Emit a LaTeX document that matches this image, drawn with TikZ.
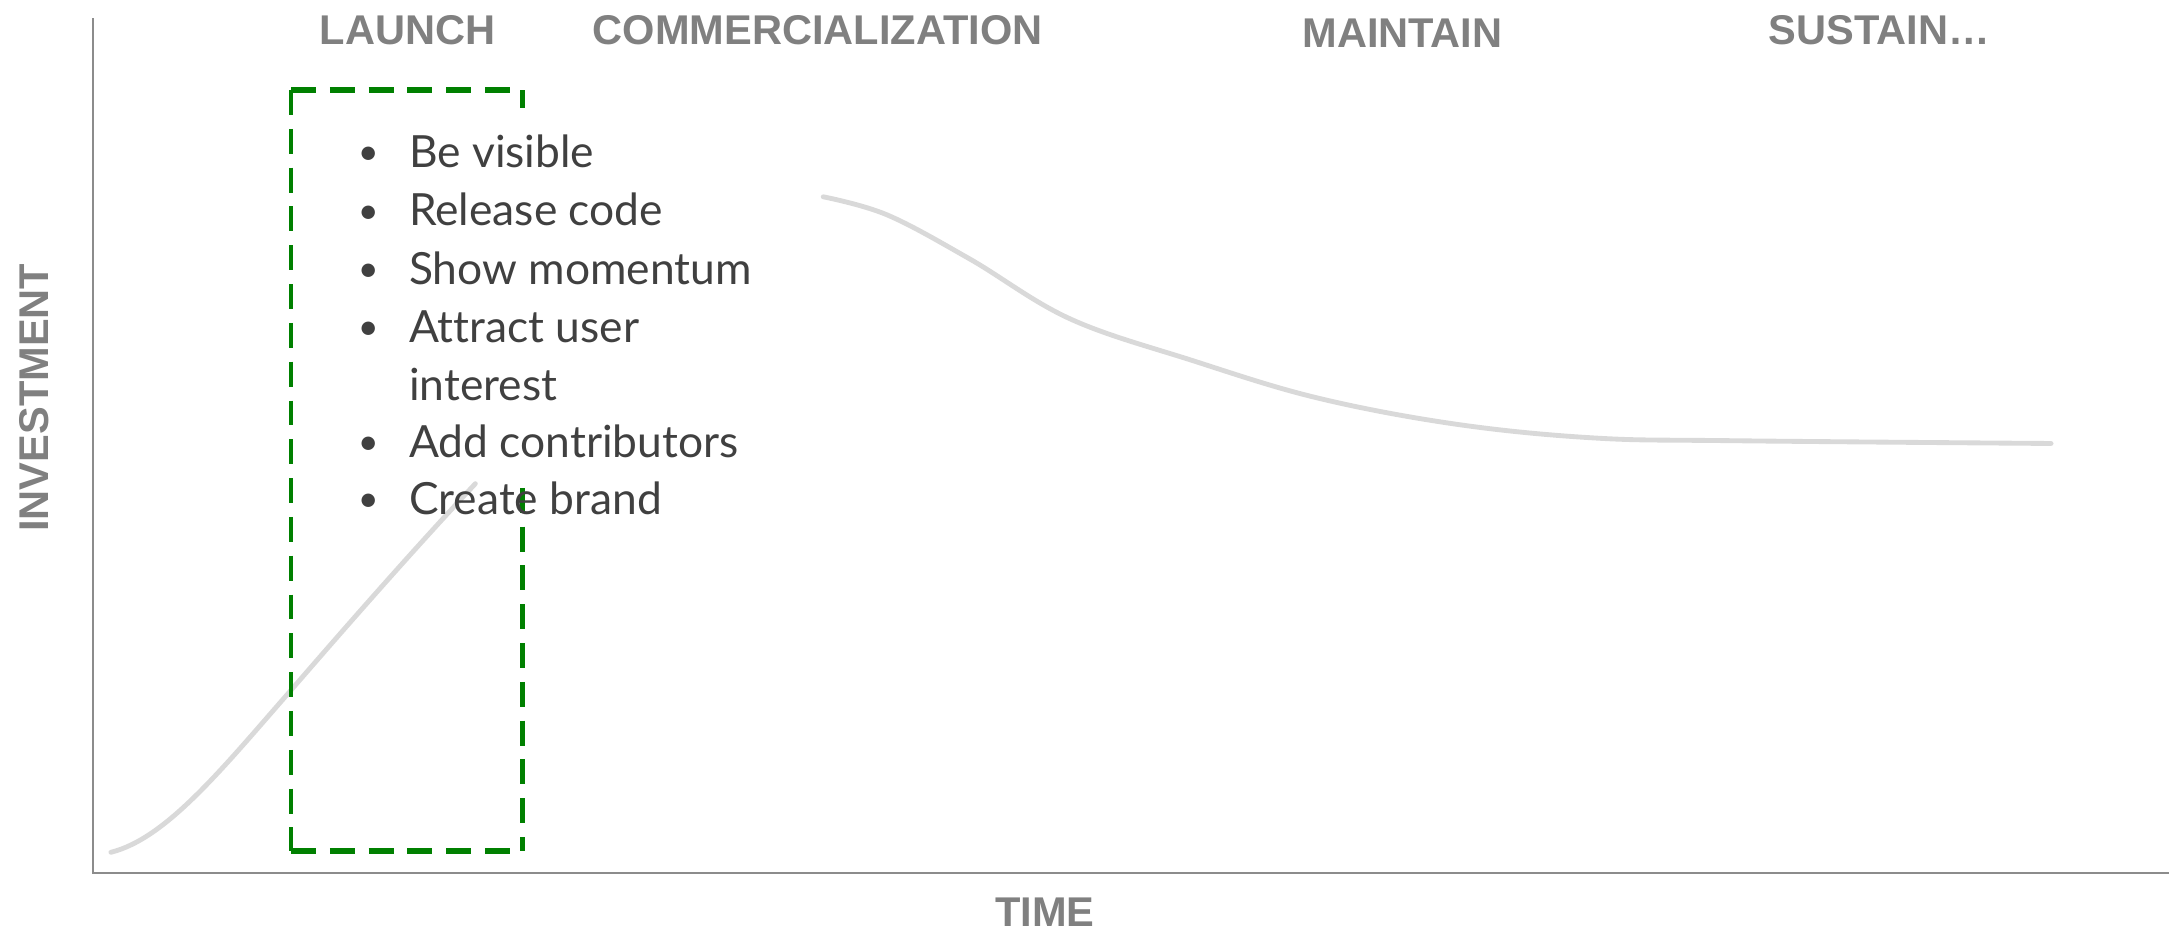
\documentclass[tikz,border=0pt]{standalone}
\usepackage{fontspec}
\setmainfont{Liberation Sans}
\newfontfamily\bodyfont[Ligatures=NoCommon]{Lato}
\definecolor{axisgray}{HTML}{8C8C8C}
\definecolor{labelgray}{HTML}{808080}
\definecolor{curvegray}{HTML}{D9D9D9}
\definecolor{boxgreen}{HTML}{008000}
\definecolor{textdark}{HTML}{404040}
\tikzset{
  phase/.style={inner sep=0pt, text=labelgray, font=\fontsize{30}{36}\selectfont\bfseries},
  axisline/.style={draw=axisgray, line width=1.5pt},
  curveline/.style={draw=curvegray, line width=3.5pt, line cap=round},
  greenh/.style={draw=boxgreen, line width=4pt, dash pattern=on 18pt off 10pt},
  greenv/.style={draw=boxgreen, line width=3pt, dash pattern=on 18pt off 10pt},
  bul/.style={inner sep=0pt, anchor=base west, text=textdark, font=\bodyfont\fontsize{32}{40}\selectfont},
  dot/.style={inner sep=0pt, anchor=base west, text=textdark, font=\bodyfont\fontsize{26}{30}\selectfont},
}
\begin{document}
\begin{tikzpicture}[x=1pt,y=-1pt]
\useasboundingbox (0,0) rectangle (1568,673);
% axes
\coordinate (ytop) at (67,13);
\coordinate (orig) at (67,630);
\coordinate (xend) at (1565,630);
\draw[axisline] (ytop) -- (orig) -- (xend);
% phase labels
\node[phase] (launch) at (294,22) {LAUNCH};
\node[phase] (comm) at (590,22) {COMMERCIALIZATION};
\node[phase] (maint) at (1012,24) {MAINTAIN};
\node[phase] (sust) at (1356,22) {SUSTAIN…};
\node[phase] (time) at (754,658) {TIME};
\node[phase, rotate=90] (inv) at (25,287) {INVESTMENT};
% curve
\draw[curveline] (80,615) .. controls (120,605) and (160,555) .. (210,498) .. controls (255,446) and (300,395) .. (343,349);
\draw[curveline] plot[smooth, tension=0.6] coordinates {(594,142) (640,155) (700,187) (772,230) (860,260) (950,287) (1050,306) (1150,316) (1250,318) (1480,320)};
% green dashed box
\coordinate (gtl) at (210,65);
\coordinate (gtr) at (377,65);
\coordinate (gbl) at (210,614);
\coordinate (gbr) at (377,614);
\draw[greenh] (gtl) -- (gtr);
\draw[greenh] (gbl) -- (gbr);
\draw[greenv] (gtl) -- (gbl);
\draw[greenv] (gtr) -- (377,78);
\draw[greenv] (377,352) -- (gbr);
% bullets
\node[dot] (b1) at (258,119) {•};
\node[bul] (t1) at (295,121) {Be visible};
\node[dot] (b2) at (258,161) {•};
\node[bul] (t2) at (295,163) {Release code};
\node[dot] (b3) at (258,203) {•};
\node[bul] (t3) at (295,205) {Show momentum};
\node[dot] (b4) at (258,245) {•};
\node[bul] (t4) at (295,247) {Attract user};
\node[bul] (t4b) at (295,289) {interest};
\node[dot] (b5) at (258,328) {•};
\node[bul] (t5) at (295,330) {Add contributors};
\node[dot] (b6) at (258,369) {•};
\node[bul] (t6) at (295,371) {Create brand};
\end{tikzpicture}
\end{document}
